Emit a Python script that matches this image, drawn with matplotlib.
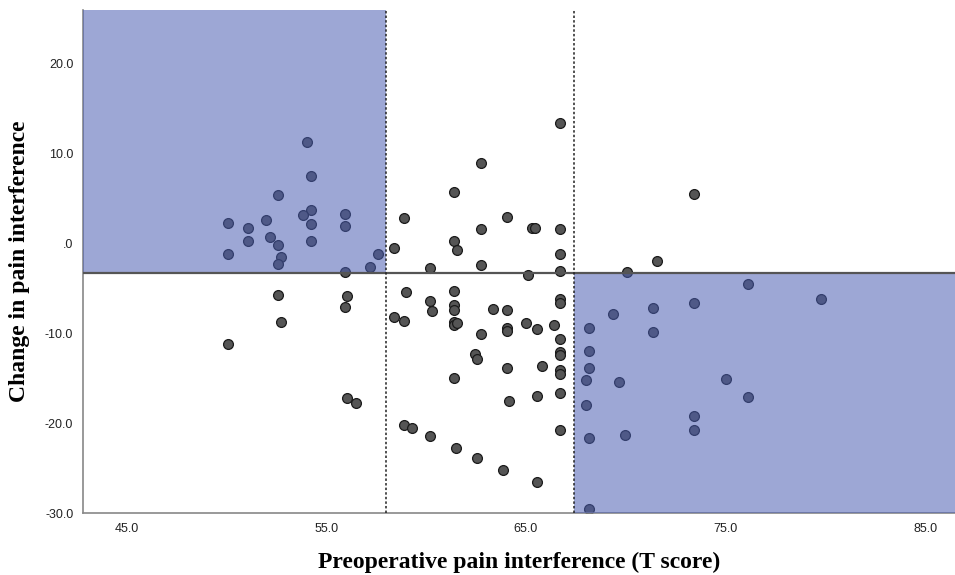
import matplotlib.pyplot as plt
from matplotlib.patches import Rectangle

# preoperative T score vs change after surgery
pre_score = [
    54.03, 54.23, 52.55, 54.23, 53.83, 55.92, 55.92, 54.23, 51.95, 50.08,
    51.07, 51.07, 52.15, 52.55, 54.23, 50.08, 52.73, 52.55, 57.6, 57.2,
    55.92, 52.55, 56.02, 55.92, 52.73, 50.08, 56.02, 56.5,
    58.38, 58.38, 66.7, 62.75, 61.37, 58.87, 64.03, 65.3, 65.45, 62.75,
    66.7, 61.37, 61.55, 66.7, 60.17, 62.75, 66.7, 65.12, 58.98, 61.37,
    60.17, 60.27, 61.37, 61.37, 66.7, 66.7, 63.33, 64.03, 58.87, 61.37,
    61.37, 61.55, 62.75, 64.03, 64.03, 65.02, 65.53, 66.42, 66.7, 66.7,
    66.7, 66.7, 66.7, 66.7, 66.7, 62.43, 62.53, 64.03, 65.82, 61.37,
    64.13, 65.53, 58.87, 59.27, 60.17, 61.47, 62.53, 63.83, 65.53,
    73.43, 71.57, 70.07, 76.12, 79.78, 73.43, 71.37, 69.38, 68.18, 71.37,
    68.18, 68.18, 68.0, 69.68, 75.03, 76.12, 68.0, 73.43, 73.43, 68.18,
    69.98, 68.18,
]
change = [
    11.26, 7.44, 5.33, 3.63, 3.11, 3.22, 1.93, 2.11, 2.56, 2.22,
    1.70, 0.22, 0.63, -0.19, 0.22, -1.19, -1.56, -2.30, -1.26, -2.67,
    -3.22, -5.78, -5.85, -7.11, -8.74, -11.22, -17.26, -17.78,
    -0.59, -8.22, 13.37, 8.93, 5.63, 2.74, 2.93, 1.63, 1.63, 1.52,
    1.52, 0.22, -0.78, -1.19, -2.78, -2.41, -3.11, -3.59, -5.41, -5.30,
    -6.41, -7.59, -6.89, -7.44, -6.26, -6.63, -7.33, -7.41, -8.70, -8.74,
    -9.10, -8.90, -10.15, -9.41, -9.74, -8.89, -9.52, -9.15, -10.67, -12.07,
    -12.44, -14.11, -14.56, -16.63, -20.74, -12.30, -12.85, -13.93, -13.63, -14.96,
    -17.52, -17.04, -20.19, -20.56, -21.48, -22.78, -23.89, -25.19, -26.59,
    5.44, -2.0, -3.22, -4.59, -6.22, -6.63, -7.18, -7.93, -9.41, -9.93,
    -12.04, -13.85, -15.24, -15.44, -15.07, -17.15, -17.96, -19.19, -20.76, -21.67,
    -21.37, -29.6,
]

x_ticks = [45, 55, 65, 75, 85]
y_ticks = [-30, -20, -10, 0, 10, 20]
y_tick_labels = ['-30.0', '-20.0', '-10.0', '.0', '10.0', '20.0']

# cut points: tertiles of preop score, mean change
low_cut = 58.0
high_cut = 67.4
mean_change = -3.3

x_min, x_max = 42.8, 86.5
y_min, y_max = -30, 25.9

fig = plt.figure(figsize=(9.55, 5.75), dpi=100)
ax = fig.add_axes([0.0869, 0.1078, 0.9131, 0.8748])

ax.scatter(pre_score, change, s=50, facecolor='#555555', edgecolor='#1a1a1a',
           linewidth=0.9, zorder=2)

shade = dict(facecolor='#4a5db3', alpha=0.54, edgecolor='none', zorder=3)
ax.add_patch(Rectangle((x_min, mean_change), low_cut - x_min, y_max - mean_change, **shade))
ax.add_patch(Rectangle((high_cut, y_min), x_max - high_cut, mean_change - y_min, **shade))

ax.axhline(mean_change, color='#555555', linewidth=1.6, zorder=4)
for c in (low_cut, high_cut):
    ax.axvline(c, color='#222222', linewidth=1.1, linestyle=(0, (1.6, 1.4)), zorder=4)

ax.set_xlim(x_min, x_max)
ax.set_ylim(y_min, y_max)
ax.set_xticks(x_ticks)
ax.set_xticklabels([f'{v:.1f}' for v in x_ticks])
ax.set_yticks(y_ticks)
ax.set_yticklabels(y_tick_labels)
ax.tick_params(length=0, labelsize=9, colors='#222222', pad=7)
for lab in ax.get_xticklabels() + ax.get_yticklabels():
    lab.set_family('Liberation Sans')

for side in ('top', 'right'):
    ax.spines[side].set_visible(False)
for side in ('left', 'bottom'):
    ax.spines[side].set_color('#888888')
    ax.spines[side].set_linewidth(1.2)

ax.set_xlabel('Preoperative pain interference (T score)', fontsize=17,
              fontweight='bold', family='Liberation Serif', labelpad=12)
ax.set_ylabel('Change in pain interference', fontsize=17,
              fontweight='bold', family='Liberation Serif', labelpad=11)

fig.savefig('out.png', dpi=100)
